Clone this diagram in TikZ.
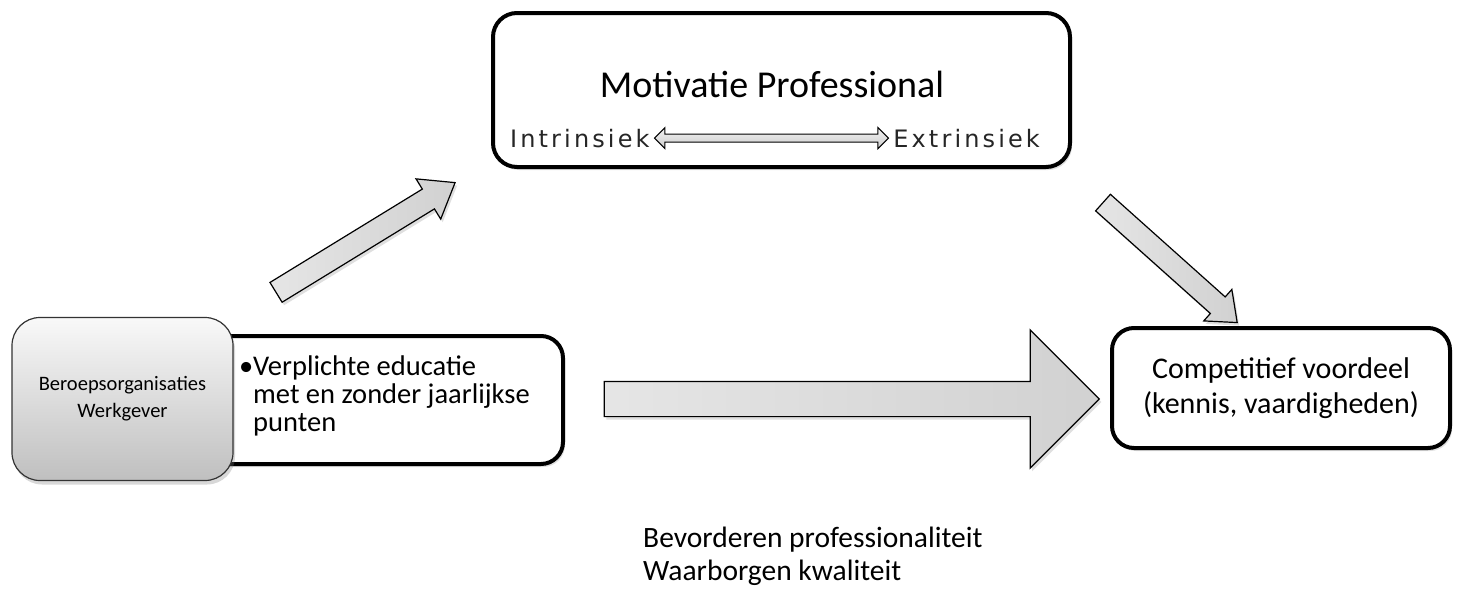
\documentclass[tikz,border=0pt]{standalone}
\usepackage{fontspec}
\setmainfont{Carlito}
\newfontfamily\polfont[LetterSpace=13]{DejaVu Sans}
\usetikzlibrary{positioning, shapes.arrows, shadows}

\begin{document}
\begin{tikzpicture}[x=1pt, y=-1pt]

	\tikzset{
		kader/.style={
				rectangle, draw=black, fill=white, line width=4pt, rounded corners=24pt, inner sep=0pt,
				drop shadow={shadow xshift=2pt, shadow yshift=-3pt, opacity=0.25}
			},
		bron/.style={
				rectangle, draw=black!80, line width=1.2pt, rounded corners=28pt, top color=gray!5, bottom color=gray!50,
				inner sep=0pt, align=center, drop shadow={shadow xshift=2pt, shadow yshift=-4pt, opacity=0.3}
			},
		blokpijl/.style={
				single arrow, draw=black, line width=1.2pt, left color=gray!20, right color=gray!36, inner xsep=0pt,
				minimum width=0pt, drop shadow={shadow xshift=2pt, shadow yshift=-3pt, opacity=0.25}
			},
		wisselpijl/.style={
				double arrow, draw=black, line width=1pt, top color=gray!10, bottom color=gray!40, inner xsep=0pt,
				inner ysep=3.5pt, double arrow head extend=6.5pt, double arrow tip angle=90, minimum width=0pt
			},
		pool/.style={font=\polfont\fontsize{24}{28}\selectfont, text=black!85, inner sep=0pt},
		tekst/.style={inner sep=0pt},
	}

	\fill[white] (0,0) rectangle (1460,595);
	\useasboundingbox (0,0) rectangle (1460,595);

	% motivatie bovenaan
	\node[kader, minimum width=577pt, minimum height=154pt](motivatie) at (781.5,90){};
	\node[tekst, anchor=base, font=\fontsize{38}{44}\selectfont](mottitel) at (772,97){Motivatie Professional};
	\node[pool, anchor=base west](intrinsiek) at (510,147){Intrinsiek};
	\node[wisselpijl, minimum height=234pt, right=4pt of intrinsiek](wissel){};
	\node[pool, right=4pt of wissel](extrinsiek){Extrinsiek};

	% links
	\node[kader, rounded corners=22pt, minimum width=363pt, minimum height=128pt](verplicht) at (381.5,400){};
	\node[bron, minimum width=221pt, minimum height=163pt, font=\fontsize{20.5}{27}\selectfont](beroeps) at (122.5,399){Beroepsorganisaties\\Werkgever};
	\node[tekst, anchor=west, align=left, font=\fontsize{28.5}{28}\selectfont](educatie) at (253,396){\llap{•}Verplichte educatie\\met en zonder jaarlijkse\\punten};

	% rechts
	\node[kader, rounded corners=22pt, minimum width=338pt, minimum height=120pt, align=center, font=\fontsize{30}{35}\selectfont](competitief) at (1281,388){Competitief voordeel\\(kennis, vaardigheden)};

	% pijlen
	\node[blokpijl, minimum height=495pt, inner ysep=17pt, single arrow head extend=51.5pt, single arrow tip angle=90](hoofdpijl) at (843,399){};
	\node[blokpijl, rotate=31.5, minimum height=210pt, inner ysep=11pt, single arrow head extend=12pt, single arrow tip angle=74](oppijl) at (359,241.5){};
	\node[blokpijl, rotate=-41.8, minimum height=180pt, inner ysep=10.5pt, single arrow head extend=10pt, single arrow tip angle=78](neerpijl) at (1165,258){};

	% onderaan
	\node[tekst, anchor=base west, font=\fontsize{29.5}{33}\selectfont](bevorderen) at (643,547){Bevorderen professionaliteit};
	\node[tekst, anchor=base west, font=\fontsize{29.5}{33}\selectfont](waarborgen) at ([yshift=-33pt]bevorderen.base west){Waarborgen kwaliteit};

\end{tikzpicture}
\end{document}
